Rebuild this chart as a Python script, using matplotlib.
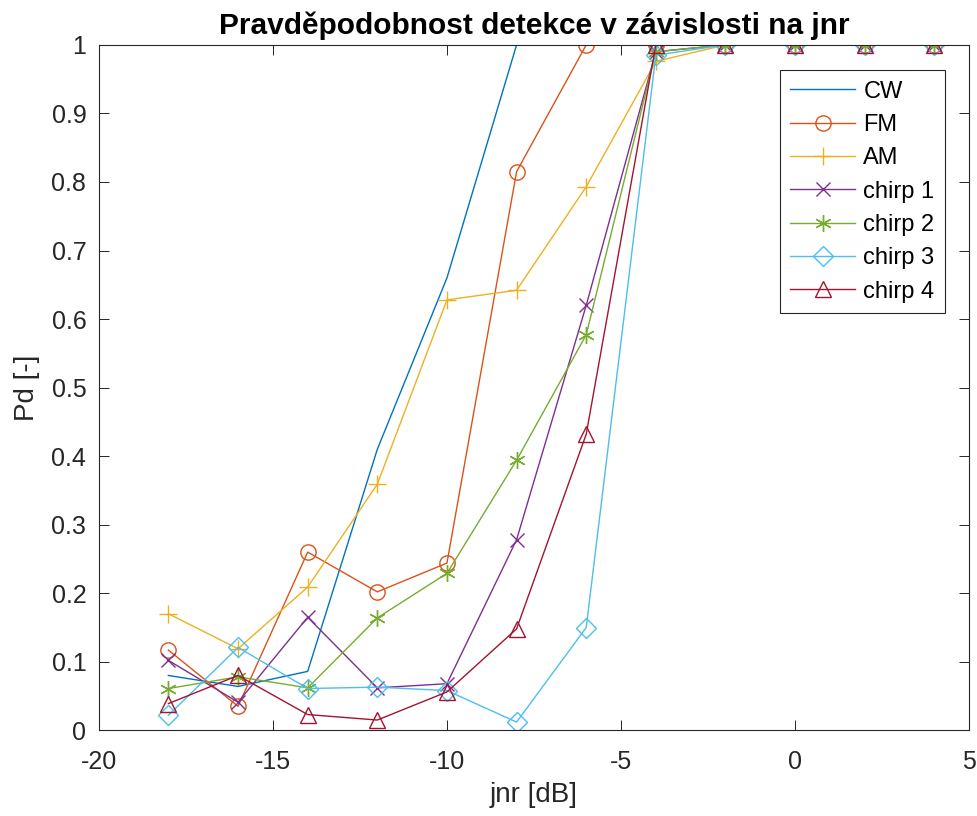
import matplotlib
matplotlib.use("Agg")
import matplotlib.pyplot as plt
import numpy as np

plt.rcParams['font.family'] = ['Liberation Sans', 'DejaVu Sans']
plt.rcParams['axes.unicode_minus'] = False

jnr = [-18, -16, -14, -12, -10, -8, -6, -4, -2, 0, 2, 4]
cw     = [0.080, 0.064, 0.086, 0.410, 0.660, 1.0, 1.0, 1.0, 1.0, 1.0, 1.0, 1.0]
fm     = [0.117, 0.035, 0.260, 0.202, 0.244, 0.815, 1.0, 1.0, 1.0, 1.0, 1.0, 1.0]
am     = [0.170, 0.119, 0.209, 0.359, 0.628, 0.642, 0.793, 0.976, 1.0, 1.0, 1.0, 1.0]
chirp1 = [0.102, 0.041, 0.165, 0.062, 0.068, 0.278, 0.620, 0.990, 1.0, 1.0, 1.0, 1.0]
chirp2 = [0.061, 0.078, 0.062, 0.164, 0.229, 0.394, 0.577, 0.990, 1.0, 1.0, 1.0, 1.0]
chirp3 = [0.022, 0.121, 0.061, 0.063, 0.058, 0.012, 0.150, 0.985, 1.0, 1.0, 1.0, 1.0]
chirp4 = [0.039, 0.080, 0.023, 0.015, 0.056, 0.148, 0.432, 1.0, 1.0, 1.0, 1.0, 1.0]

labels = ['CW', 'FM', 'AM', 'chirp 1', 'chirp 2', 'chirp 3', 'chirp 4']
series = [cw, fm, am, chirp1, chirp2, chirp3, chirp4]
markers = [None, 'o', '+', 'x', (6, 2, 0), 'D', '^']
colors = [(0, 0.447, 0.741), (0.85, 0.325, 0.098), (0.929, 0.694, 0.125),
          (0.494, 0.184, 0.556), (0.466, 0.674, 0.188), (0.301, 0.745, 0.933),
          (0.635, 0.078, 0.184)]
msizes = [0, 11, 13, 10, 12, 10, 11]
dark = (0.15, 0.15, 0.15)

fig = plt.figure(figsize=(9.78, 8.16), dpi=100)
ax = fig.add_axes([0.101, 0.105, 0.890, 0.840])

for y, lab, m, c, ms in zip(series, labels, markers, colors, msizes):
    ax.plot(jnr, y, color=c, marker=m, markersize=ms, markerfacecolor='none',
            markeredgecolor=c, markeredgewidth=1.0, linewidth=1.0, label=lab)

ax.set_xlim(-20, 5)
ax.set_ylim(0, 1)
ax.set_xticks([-20, -15, -10, -5, 0, 5])
ax.set_yticks(np.round(np.arange(0, 1.01, 0.1), 1))
ax.set_yticklabels(['0', '0.1', '0.2', '0.3', '0.4', '0.5', '0.6', '0.7', '0.8', '0.9', '1'])
ax.tick_params(direction='in', top=True, right=True, labelsize=18, length=7,
               width=0.7, color=dark, labelcolor=dark)
ax.tick_params(axis='x', pad=14)
ax.tick_params(axis='y', pad=9)
for s in ax.spines.values():
    s.set_color(dark)
    s.set_linewidth(0.8)

ax.set_xlabel('jnr [dB]', fontsize=20, color=dark, labelpad=6)
ax.set_ylabel('Pd [-]', fontsize=20, color=dark, labelpad=8)
ax.set_title('Pravděpodobnost detekce v závislosti na jnr', fontsize=21.5,
             fontweight='bold', pad=8)

leg = ax.legend(loc='upper right', bbox_to_anchor=(0.9724, 0.9635), borderaxespad=0,
                fontsize=17, fancybox=False, framealpha=1, edgecolor=dark,
                handlelength=2.75, handletextpad=0.35, borderpad=0.45, labelspacing=0.48)
leg.get_frame().set_linewidth(0.8)

fig.savefig('out.png', dpi=100)
